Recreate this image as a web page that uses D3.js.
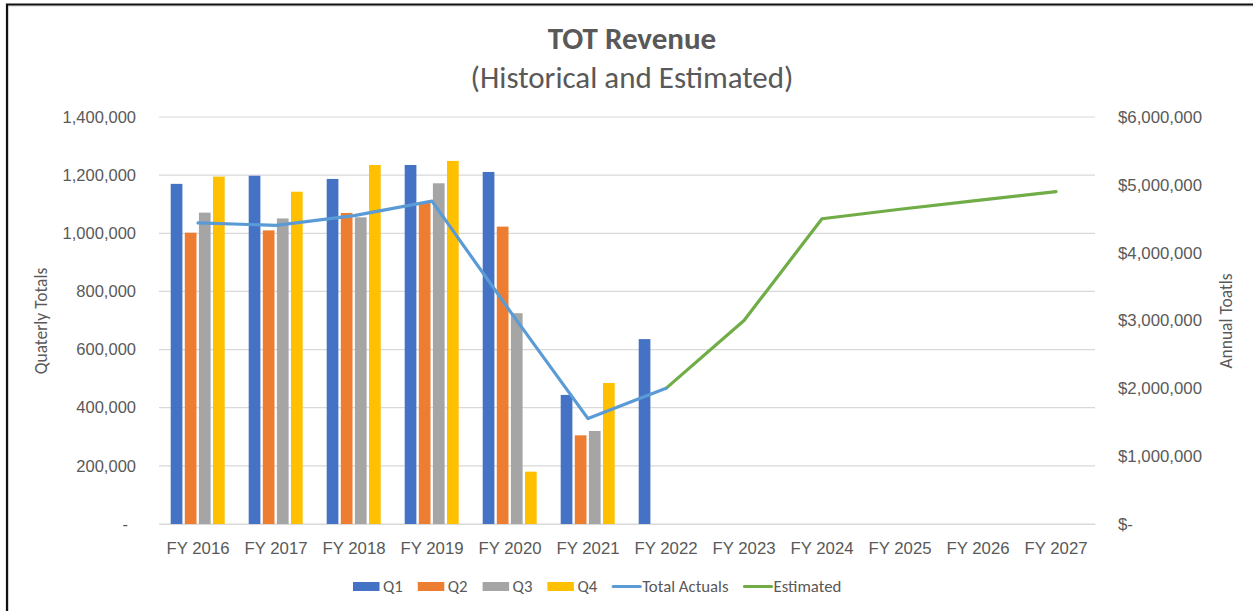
<!DOCTYPE html>
<html>
<head>
<meta charset="utf-8">
<script src="https://cdn.jsdelivr.net/npm/d3@7/dist/d3.min.js"></script>
<style>
  html, body { margin: 0; padding: 0; background: #fff; }
  svg { display: block; font-family: Carlito, Lato, "Open Sans", sans-serif; }
</style>
</head>
<body>
<svg id="chart" width="1253" height="611"></svg>
<script>
// ---- data ----
const categories = ["FY 2016","FY 2017","FY 2018","FY 2019","FY 2020","FY 2021","FY 2022","FY 2023","FY 2024","FY 2025","FY 2026","FY 2027"];
const quarters = ["Q1","Q2","Q3","Q4"];
const q1 = [1170000, 1198000, 1187000, 1235000, 1211000, 444000, 636000];
const q2 = [1002000, 1010000, 1070000, 1104000, 1023000, 305000];
const q3 = [1071000, 1051000, 1055000, 1172000, 725000, 320000];
const q4 = [1195000, 1143000, 1235000, 1249000, 180000, 485000];
const totalActualsCats = ["FY 2016","FY 2017","FY 2018","FY 2019","FY 2020","FY 2021","FY 2022"];
const totalActuals = [4438000, 4402000, 4547000, 4760000, 3139000, 1554000, 2000000];
const estimatedCats = ["FY 2022","FY 2023","FY 2024","FY 2025","FY 2026","FY 2027"];
const estimated = [2000000, 3000000, 4500000, 4640000, 4770000, 4900000];
const leftTicks = [0, 200000, 400000, 600000, 800000, 1000000, 1200000, 1400000];
const rightTicks = [0, 1000000, 2000000, 3000000, 4000000, 5000000, 6000000];
const colors = { Q1: "#4472C4", Q2: "#ED7D31", Q3: "#A5A5A5", Q4: "#FFC000", total: "#5B9BD5", est: "#70AD47" };

const quarterSeries = { Q1: q1, Q2: q2, Q3: q3, Q4: q4 };
const textColor = "#595959";

const svg = d3.select("#chart");

// frame (partial border visible in the screenshot)
svg.append("path").attr("d", "M8,611 V6 H1253").attr("fill", "none").attr("stroke", "#d0d0d0").attr("stroke-width", 1);
svg.append("path").attr("d", "M7,611 V4.5 H1253").attr("fill", "none").attr("stroke", "#111").attr("stroke-width", 2.2);

const plot = { left: 159, right: 1095, top: 117, bottom: 524 };

const x0 = d3.scaleBand().domain(categories).range([plot.left, plot.right]).paddingInner(0).paddingOuter(0);
const x1 = d3.scaleBand().domain(quarters).range([11.7, x0.bandwidth() - 12.3]).paddingInner(0.17).paddingOuter(0);
const yL = d3.scaleLinear().domain([0, 1400000]).range([plot.bottom, plot.top]);
const yR = d3.scaleLinear().domain([0, 6000000]).range([plot.bottom, plot.top]);

// gridlines
svg.append("g").selectAll("line").data(leftTicks).join("line")
  .attr("x1", plot.left).attr("x2", plot.right)
  .attr("y1", d => yL(d)).attr("y2", d => yL(d))
  .attr("stroke", "#d9d9d9").attr("stroke-width", 1.2);

// left axis
const fmtL = d3.format(",");
const leftAxis = d3.axisLeft(yL).tickValues(leftTicks).tickSize(0).tickPadding(23)
  .tickFormat(d => d === 0 ? "-" : fmtL(d));
const gL = svg.append("g").attr("transform", `translate(${plot.left},0)`).call(leftAxis);
gL.select(".domain").remove();
gL.selectAll("text").attr("fill", textColor).attr("font-size", "16.5px").attr("font-family", null)
  .attr("dx", d => d === 0 ? -8 : 0);

// right axis
const rightAxis = d3.axisRight(yR).tickValues(rightTicks).tickSize(0).tickPadding(23)
  .tickFormat(d => d === 0 ? "$-" : "$" + fmtL(d));
const gR = svg.append("g").attr("transform", `translate(${plot.right},0)`).call(rightAxis);
gR.select(".domain").remove();
gR.selectAll("text").attr("fill", textColor).attr("font-size", "16.8px").attr("font-family", null);

// bottom axis
const bottomAxis = d3.axisBottom(x0).tickSize(0).tickPadding(18);
const gB = svg.append("g").attr("transform", `translate(0,${plot.bottom})`).call(bottomAxis);
gB.select(".domain").attr("stroke", "#d9d9d9").attr("stroke-width", 1.2);
gB.selectAll("text").attr("fill", textColor).attr("font-size", "16.8px").attr("font-family", null);

// bars
const barData = [];
quarters.forEach(q => quarterSeries[q].forEach((v, i) => barData.push({ cat: categories[i], q, v })));
svg.append("g").selectAll("rect").data(barData).join("rect")
  .attr("x", d => x0(d.cat) + x1(d.q))
  .attr("width", x1.bandwidth())
  .attr("y", d => yL(d.v))
  .attr("height", d => yL(0) - yL(d.v))
  .attr("fill", d => colors[d.q]);

// lines
const cx = c => x0(c) + x0.bandwidth() / 2;
const lineGen = d3.line().x(d => cx(d.c)).y(d => yR(d.v));
svg.append("path")
  .datum(estimatedCats.map((c, i) => ({ c, v: estimated[i] })))
  .attr("d", lineGen).attr("fill", "none").attr("stroke", colors.est)
  .attr("stroke-width", 3.2).attr("stroke-linejoin", "round").attr("stroke-linecap", "round");
svg.append("path")
  .datum(totalActualsCats.map((c, i) => ({ c, v: totalActuals[i] })))
  .attr("d", lineGen).attr("fill", "none").attr("stroke", colors.total)
  .attr("stroke-width", 3.2).attr("stroke-linejoin", "round").attr("stroke-linecap", "round");

// titles
svg.append("text").attr("x", 632).attr("y", 49).attr("text-anchor", "middle")
  .attr("font-size", "31px").attr("font-weight", "bold").attr("fill", textColor).text("TOT Revenue");
svg.append("text").attr("x", 632).attr("y", 88).attr("text-anchor", "middle")
  .attr("font-size", "31px").attr("fill", textColor).text("(Historical and Estimated)");

// axis titles
svg.append("text").attr("transform", "translate(47,321) rotate(-90)").attr("text-anchor", "middle")
  .attr("font-size", "17.5px").attr("fill", textColor).text("Quaterly Totals");
svg.append("text").attr("transform", "translate(1232,321) rotate(-90)").attr("text-anchor", "middle")
  .attr("font-size", "17.5px").attr("fill", textColor).text("Annual Toatls");

// legend
const legendItems = [
  { name: "Q1", color: colors.Q1, type: "rect" },
  { name: "Q2", color: colors.Q2, type: "rect" },
  { name: "Q3", color: colors.Q3, type: "rect" },
  { name: "Q4", color: colors.Q4, type: "rect" },
  { name: "Total Actuals", color: colors.total, type: "line" },
  { name: "Estimated", color: colors.est, type: "line" }
];
const legend = svg.append("g");
let lx = 353;
const ly = 586.5;
legendItems.forEach(it => {
  const g = legend.append("g").attr("transform", `translate(${lx},${ly})`);
  if (it.type === "rect") {
    g.append("rect").attr("x", 0).attr("y", -4.5).attr("width", 26.5).attr("height", 9).attr("fill", it.color);
  } else {
    g.append("line").attr("x1", 1).attr("x2", 28).attr("y1", 0).attr("y2", 0)
      .attr("stroke", it.color).attr("stroke-width", 3.2).attr("stroke-linecap", "round");
  }
  const t = g.append("text").attr("x", 30).attr("y", 0).attr("dy", "0.35em")
    .attr("font-size", "16.8px").attr("fill", textColor).text(it.name);
  lx += 30 + t.node().getComputedTextLength() + 15;
});
</script>
</body>
</html>
